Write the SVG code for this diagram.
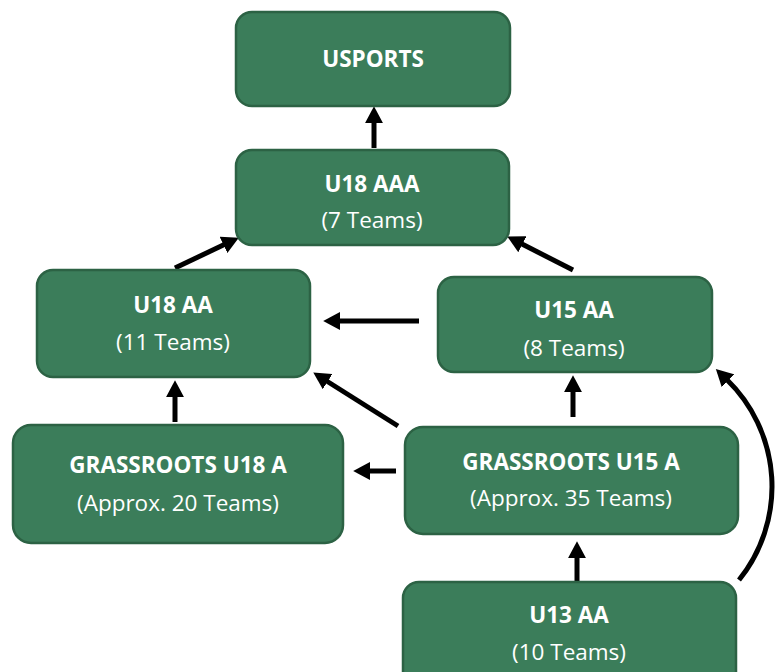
<svg xmlns="http://www.w3.org/2000/svg" width="775" height="672" viewBox="0 0 775 672">
<style>
.box{fill:#3B7D5A;stroke:#2C6244;stroke-width:2.5}
.t1{font-family:"Open Sans","Liberation Sans",sans-serif;font-weight:bold;font-size:22.5px;fill:#fff;text-anchor:middle}
.t2{font-family:"Open Sans","Liberation Sans",sans-serif;font-size:22.5px;fill:#fff;text-anchor:middle}
.c{stroke:#000;stroke-width:5;fill:none;marker-end:url(#ah)}
</style>
<defs>
<marker id="ah" markerUnits="userSpaceOnUse" markerWidth="18" markerHeight="18" viewBox="0 0 17 17" refX="2" refY="8.5" orient="auto">
<path d="M0,0 L16,8.5 L0,17 z" fill="#000"/>
</marker>
</defs>
<rect width="775" height="672" fill="#fff"/>
<g id="connectors">
<line class="c" x1="374" y1="148" x2="374" y2="121"/>
<line class="c" x1="175" y1="268" x2="225.4" y2="244"/>
<line class="c" x1="573" y1="270" x2="520.5" y2="243.3"/>
<line class="c" x1="419" y1="321" x2="338" y2="321"/>
<line class="c" x1="398" y1="426" x2="325.8" y2="380.5"/>
<line class="c" x1="175" y1="422" x2="175" y2="395"/>
<line class="c" x1="396" y1="471" x2="368" y2="471"/>
<line class="c" x1="573" y1="417" x2="573" y2="390"/>
<line class="c" x1="577" y1="581" x2="577" y2="556"/>
<path class="c" d="M739,580 A149,149 0 0 0 726.5,379.3"/>
</g>
<g id="usports">
<rect class="box" x="236" y="12" width="274" height="94" rx="16"/>
<text class="t1" x="373" y="67">USPORTS</text>
</g>
<g id="u18aaa">
<rect class="box" x="236" y="150" width="273" height="95" rx="16"/>
<text class="t1" x="372" y="192">U18 AAA</text>
<text class="t2" x="372" y="228">(7 Teams)</text>
</g>
<g id="u18aa">
<rect class="box" x="37" y="270" width="273" height="107" rx="16"/>
<text class="t1" x="173" y="313">U18 AA</text>
<text class="t2" x="173" y="350">(11 Teams)</text>
</g>
<g id="u15aa">
<rect class="box" x="438" y="277" width="274" height="95" rx="16"/>
<text class="t1" x="574" y="318">U15 AA</text>
<text class="t2" x="574" y="356">(8 Teams)</text>
</g>
<g id="grassroots-u18a">
<rect class="box" x="13" y="425" width="330" height="118" rx="18"/>
<text class="t1" x="178" y="473">GRASSROOTS U18 A</text>
<text class="t2" x="178" y="511">(Approx. 20 Teams)</text>
</g>
<g id="grassroots-u15a">
<rect class="box" x="405" y="427" width="333" height="107" rx="18"/>
<text class="t1" x="571" y="470">GRASSROOTS U15 A</text>
<text class="t2" x="571" y="506">(Approx. 35 Teams)</text>
</g>
<g id="u13aa">
<rect class="box" x="403" y="582" width="333" height="110" rx="16"/>
<text class="t1" x="569" y="623">U13 AA</text>
<text class="t2" x="569" y="660">(10 Teams)</text>
</g>
</svg>
